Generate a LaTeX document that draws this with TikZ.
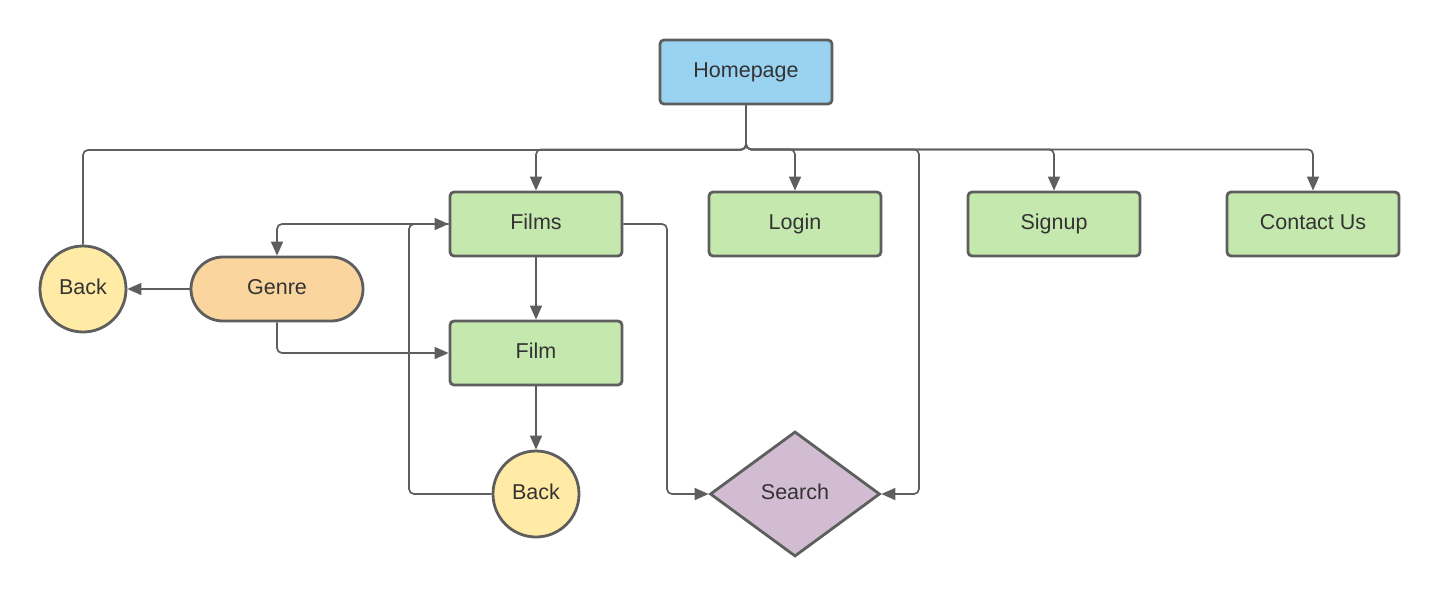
\documentclass[tikz,border=0pt]{standalone}
\usepackage{fontspec}
\setmainfont{Liberation Sans}
\usetikzlibrary{arrows.meta,shapes.geometric}
\definecolor{edgegray}{HTML}{5E5E5E}
\definecolor{hpblue}{HTML}{9AD2F2}
\definecolor{boxgreen}{HTML}{C5E8AE}
\definecolor{genreorange}{HTML}{FBD59E}
\definecolor{backyellow}{HTML}{FFEBA5}
\definecolor{searchpurple}{HTML}{D1BCD2}
\definecolor{txt}{HTML}{333333}
\tikzset{
  base/.style={draw=edgegray, line width=2.8pt, text=txt, font=\fontsize{21.5}{25}\selectfont, inner sep=0pt, text height=15pt, text depth=5pt},
  boxnode/.style={base, rectangle, rounded corners=4pt, minimum width=172pt, minimum height=64pt},
  circnode/.style={base, circle, minimum size=86pt, fill=backyellow},
  conn/.style={draw=edgegray, line width=1.7pt, rounded corners=5pt, -{Triangle[length=14pt,width=12pt]}},
  plainconn/.style={draw=edgegray, line width=1.7pt, rounded corners=5pt}
}
\begin{document}
\begin{tikzpicture}[x=1pt,y=-1pt]
\useasboundingbox (0,0) rectangle (1440,600);
\fill[white] (0,0) rectangle (1440,600);

\node[boxnode, fill=hpblue] (hp) at (746,72) {Homepage};
\node[boxnode, fill=boxgreen] (films) at (536,224) {Films};
\node[boxnode, fill=boxgreen] (login) at (795,224) {Login};
\node[boxnode, fill=boxgreen] (signup) at (1054,224) {Signup};
\node[boxnode, fill=boxgreen] (contact) at (1313,224) {Contact Us};
\node[boxnode, fill=boxgreen] (film) at (536,353) {Film};
\node[base, rectangle, rounded corners=32pt, minimum width=172pt, minimum height=64pt, fill=genreorange] (genre) at (277,289) {Genre};
\node[circnode] (backL) at (83,289) {Back};
\node[circnode] (backB) at (536,494) {Back};
\node[base, diamond, minimum width=170pt, minimum height=125pt, fill=searchpurple] (search) at (795,494) {Search};

\coordinate (j) at (746,150);
\coordinate (sr) at (919,494);
\coordinate (fs) at (667,494);
\coordinate (bb) at (409,494);

\draw[plainconn] (backL.north) |- (j) -- (hp.south);
\draw[conn] (hp.south) -- ++(0,44) -| (films.north);
\draw[conn] (hp.south) -- ++(0,44) -| (login.north);
\draw[conn] (hp.south) -- ++(0,44) -| (signup.north);
\draw[conn] (hp.south) -- ++(0,44) -| (contact.north);
\draw[conn] (hp.south) -- ++(0,44) -| (sr) -- (search.east);
\draw[conn] (films.east) -| (fs) -- (search.west);
\draw[conn] (films.west) -| (genre.north);
\draw[conn] (backB.west) -- (bb) |- (films.west);
\draw[conn] (genre.west) -- (backL.east);
\draw[conn] (genre.south) |- (film.west);
\draw[conn] (films.south) -- (film.north);
\draw[conn] (film.south) -- (backB.north);
\end{tikzpicture}
\end{document}
